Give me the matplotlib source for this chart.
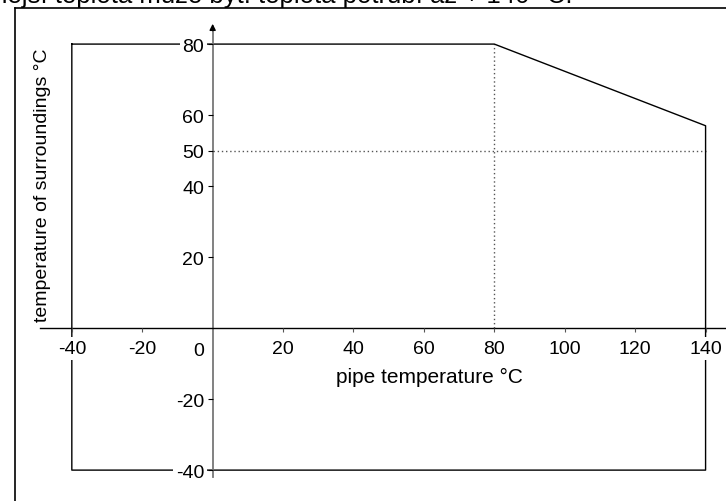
import matplotlib
matplotlib.use("Agg")
from matplotlib import pyplot as plt

plt.rcParams['font.family'] = ['Liberation Sans', 'DejaVu Sans']
plt.rcParams['font.size'] = 14

# operating envelope: pipe temperature vs. temperature of surroundings
pipe_t = [-40, 80, 140, 140, -40, -40]
surr_t = [80, 80, 57, -40, -40, 80]

x_ticks = [-40, -20, 20, 40, 60, 80, 100, 120, 140]
y_ticks = [80, 60, 50, 40, 20, -20, -40]

title = "Vnější teplota může být: teplota potrubí až + 140 °C."

fig = plt.figure(figsize=(7.26, 5.02), dpi=100)
ax = fig.add_axes([0, 0, 1, 1])
ax.set_xlim(-60.4, 145.8)
ax.set_ylim(-48.7, 92.7)
ax.set_axisbelow(False)

# outer frame (only top and left edges are inside the picture)
ax.plot([-56.2, 145.8], [90.1, 90.1], color='black', lw=1.2, zorder=1)
ax.plot([-56.2, -56.2], [90.1, -48.7], color='black', lw=1.2, zorder=1)

ax.plot(pipe_t, surr_t, color='black', lw=1.0, zorder=1)

# dotted guide lines
ax.plot([80, 80], [0, 80], color='#555555', lw=1.0, ls=(0, (1, 2)), zorder=0.9)
ax.plot([0, 140], [50, 50], color='#555555', lw=1.0, ls=(0, (1, 2)), zorder=0.9)

for s in ['top', 'right']:
    ax.spines[s].set_visible(False)
ax.spines['left'].set_position(('data', 0))
ax.spines['bottom'].set_position(('data', 0))
ax.spines['left'].set_bounds(-42, 84)
ax.spines['bottom'].set_bounds(-49, 145.8)
ax.spines['left'].set_color('#777777')
ax.spines['left'].set_linewidth(1.3)
ax.spines['bottom'].set_linewidth(1.0)
ax.annotate('', xy=(0, 86.5), xytext=(0, 83),
            arrowprops=dict(arrowstyle='-|>', color='black', lw=1.0,
                            mutation_scale=9))

ax.set_xticks(x_ticks)
ax.set_xticklabels([str(v) for v in x_ticks])
ax.set_yticks(y_ticks)
ax.set_yticklabels([str(v) for v in y_ticks])
ax.tick_params(axis='x', direction='out', length=3, pad=5.5, labelsize=14, color='#555555')
ax.tick_params(axis='y', direction='out', length=3.6, pad=2.5, labelsize=14)
for lab in ax.get_xticklabels() + ax.get_yticklabels():
    lab.set_bbox(dict(facecolor='white', edgecolor='none', pad=2))
ax.text(-3.9, -6.3, "0", ha='center', va='center', fontsize=14)

ax.text(35.0, -13.6, "pipe temperature °C", ha='left', va='center', fontsize=15)
ax.text(-48.3, 40.6, "temperature of surroundings °C", ha='center', va='center',
        rotation=90, fontsize=14)

fig.text(573 / 726, 1 - 3.5 / 502, title, ha='right', va='baseline', fontsize=18.5)

fig.savefig("out.png", dpi=100)
